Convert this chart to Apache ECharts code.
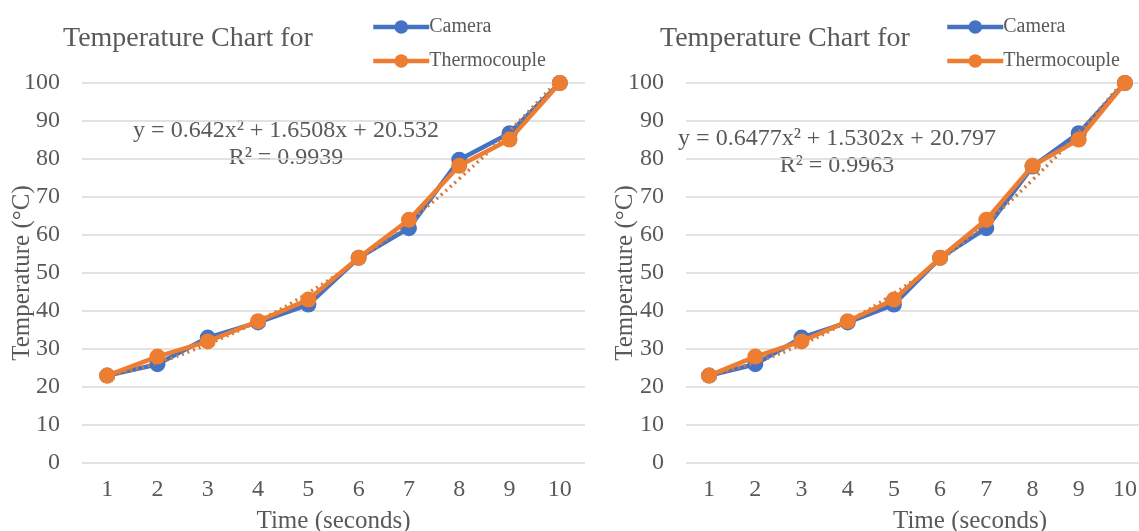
<!DOCTYPE html>
<html>
<head>
<meta charset="utf-8">
<script src="https://cdn.jsdelivr.net/npm/echarts@6/dist/echarts.min.js"></script>
<style>
  html, body { margin: 0; padding: 0; background: #fff; }
  #chart { width: 1139px; height: 531px; }
</style>
</head>
<body>
<div id="chart"></div>
<script>
// categories and values
const times = ['1', '2', '3', '4', '5', '6', '7', '8', '9', '10'];
const yTicks = [0, 10, 20, 30, 40, 50, 60, 70, 80, 90, 100];

const cameraLeft = [23, 26, 33, 37, 41.7, 54, 61.8, 79.8, 86.8, 100];
const thermoLeft = [23, 28, 32, 37.3, 43, 54, 64, 78.2, 85.1, 100];
const trendLeft = [22.8, 26.4, 31.3, 37.4, 44.8, 53.6, 63.6, 74.8, 87.4, 101.2];

const cameraRight = [23, 26, 33, 37, 41.7, 54, 61.8, 78, 86.8, 100];
const thermoRight = [23, 28, 32, 37.3, 43, 54, 64, 78.2, 85.1, 100];
const trendRight = [23.0, 26.5, 31.2, 37.3, 44.6, 53.3, 63.3, 74.5, 87.0, 100.9];

const eqLeft = ['y = 0.642x² + 1.6508x + 20.532', 'R² = 0.9939'];
const eqRight = ['y = 0.6477x² + 1.5302x + 20.797', 'R² = 0.9963'];

const FONT = '"Liberation Serif", "Times New Roman", serif';
const TXT = '#595959';
const BLUE = '#4472C4';
const ORANGE = '#ED7D31';
const TREND = '#D07A3E';

function xAxisFor(gridIndex, shift) {
  return {
    type: 'category',
    gridIndex: gridIndex,
    data: times,
    boundaryGap: true,
    axisLine: { show: false },
    axisTick: { show: false },
    axisLabel: { color: TXT, fontFamily: FONT, fontSize: 24, margin: 15 },
    name: 'Time (seconds)',
    nameLocation: 'middle',
    nameGap: 46,
    nameMoveOverlap: false,
    nameTextStyle: { color: TXT, fontFamily: FONT, fontSize: 25, padding: [0, 0, 0, shift] }
  };
}

function yAxisFor(gridIndex, gap) {
  return {
    type: 'value',
    gridIndex: gridIndex,
    min: yTicks[0],
    max: yTicks[yTicks.length - 1],
    interval: 10,
    axisLine: { show: false },
    axisTick: { show: false },
    splitLine: { lineStyle: { color: '#D9D9D9', width: 1.5 } },
    axisLabel: { color: TXT, fontFamily: FONT, fontSize: 24, margin: 22 },
    name: 'Temperature (°C)',
    nameLocation: 'middle',
    nameGap: gap,
    nameMoveOverlap: false,
    nameTextStyle: { color: TXT, fontFamily: FONT, fontSize: 25 }
  };
}

function lineSeries(name, data, color, idx) {
  return {
    name: name,
    type: 'line',
    xAxisIndex: idx,
    yAxisIndex: idx,
    data: data,
    symbol: 'circle',
    symbolSize: 16,
    lineStyle: { color: color, width: 4.5 },
    itemStyle: { color: color },
    z: name === 'Thermocouple' ? 4 : 2
  };
}

function trendSeries(data, idx) {
  return {
    name: 'trend',
    type: 'line',
    xAxisIndex: idx,
    yAxisIndex: idx,
    data: data,
    smooth: true,
    showSymbol: false,
    lineStyle: { color: TREND, width: 3.5, type: [2, 4] },
    z: 3,
    silent: true
  };
}

function legendFor(left) {
  return {
    orient: 'vertical',
    left: left,
    top: 12,
    itemWidth: 56,
    itemHeight: 17,
    itemGap: 14,
    data: ['Camera', 'Thermocouple'],
    lineStyle: { width: 4.5 },
    textStyle: { color: TXT, fontFamily: FONT, fontSize: 20, padding: [0, 0, 0, -5] }
  };
}

function eqText(lines, x, y) {
  return lines.map(function (t, i) {
    return {
      type: 'text',
      x: x,
      y: y + i * 27,
      style: {
        text: t,
        fill: TXT,
        font: '24px ' + FONT,
        textAlign: 'center',
        textVerticalAlign: 'middle'
      }
    };
  });
}

const myChart = echarts.init(document.getElementById('chart'));
const option = {
  animation: false,
  backgroundColor: '#fff',
  title: [
    { text: 'Temperature Chart for', left: 63, top: 25, padding: 0,
      textStyle: { color: TXT, fontFamily: FONT, fontSize: 28, fontWeight: 'normal' } },
    { text: 'Temperature Chart for', left: 660, top: 25, padding: 0,
      textStyle: { color: TXT, fontFamily: FONT, fontSize: 28, fontWeight: 'normal' } }
  ],
  legend: [legendFor(366), legendFor(940)],
  grid: [
    { left: 82, top: 83, width: 503, height: 380, outerBoundsMode: 'none', containLabel: false },
    { left: 686, top: 83, width: 462, height: 380, outerBoundsMode: 'none', containLabel: false }
  ],
  xAxis: [xAxisFor(0, 0), xAxisFor(1, 106)],
  yAxis: [yAxisFor(0, 47), yAxisFor(1, 48)],
  series: [
    lineSeries('Camera', cameraLeft, BLUE, 0),
    trendSeries(trendLeft, 0),
    lineSeries('Thermocouple', thermoLeft, ORANGE, 0),
    lineSeries('Camera', cameraRight, BLUE, 1),
    trendSeries(trendRight, 1),
    lineSeries('Thermocouple', thermoRight, ORANGE, 1)
  ],
  graphic: eqText(eqLeft, 286, 131).concat(eqText(eqRight, 837, 139))
};
myChart.setOption(option);
window.addEventListener('resize', function () {
  myChart.resize();
});
</script>
</body>
</html>
